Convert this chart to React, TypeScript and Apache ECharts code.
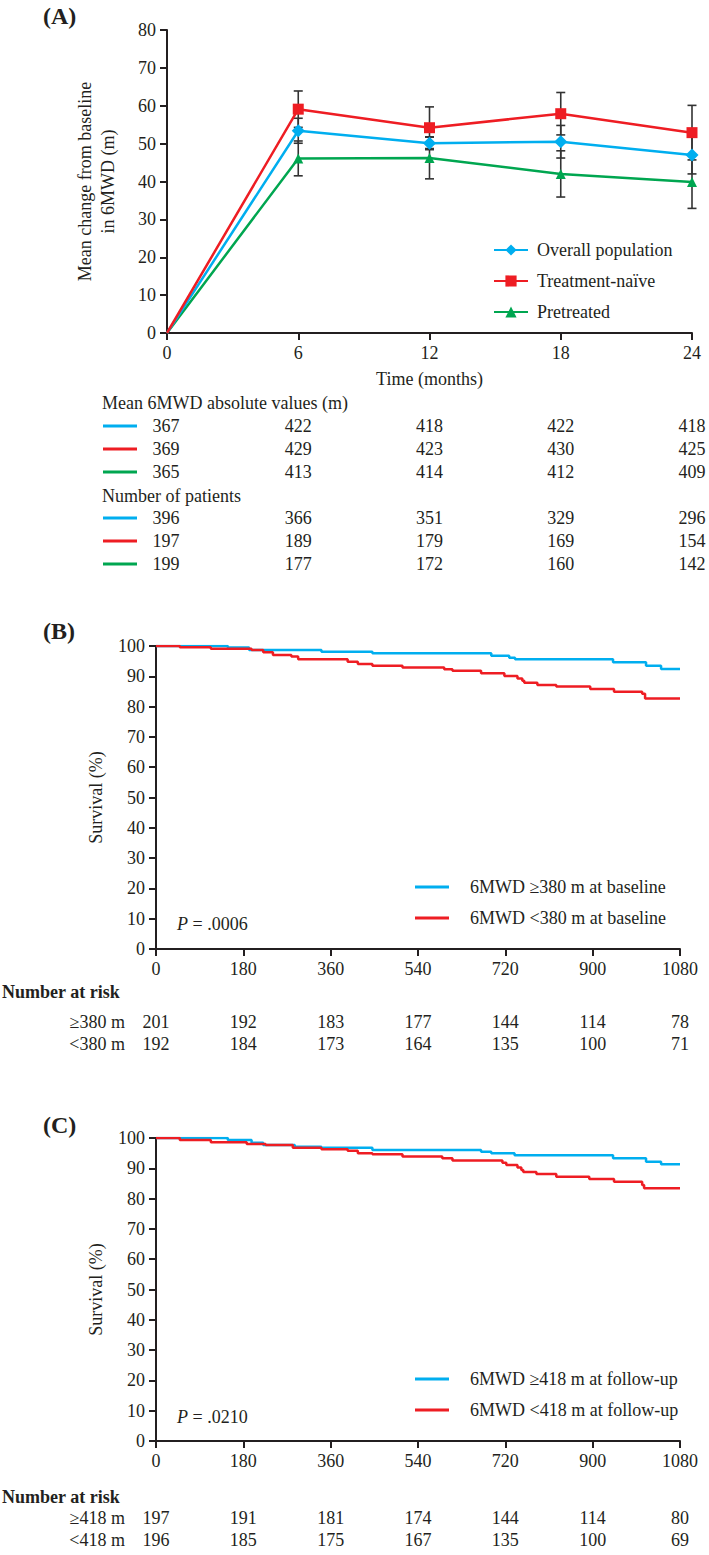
import React, { useEffect, useRef } from 'react';
import * as echarts from 'echarts';

// ---------- Panel A data ----------
const months = [0, 6, 12, 18, 24];
const overallMean = [0, 53.4, 50.1, 50.5, 47.0];
const naiveMean = [0, 59.1, 54.2, 57.9, 52.9];
const pretreatedMean = [0, 46.1, 46.2, 42.0, 39.9];
const overallSE = [0, 3.3, 1.7, 4.3, 5.0];
const naiveSE = [0, 4.8, 5.5, 5.6, 7.2];
const pretreatedSE = [0, 4.6, 5.5, 6.1, 7.0];

const absOverall = ['367', '422', '418', '422', '418'];
const absNaive = ['369', '429', '423', '430', '425'];
const absPretreated = ['365', '413', '414', '412', '409'];
const nOverall = ['396', '366', '351', '329', '296'];
const nNaive = ['197', '189', '179', '169', '154'];
const nPretreated = ['199', '177', '172', '160', '142'];

// ---------- Panel B data (days, survival %) ----------
const bHighT = [0, 148, 192, 341, 446, 691, 728, 740, 942, 1010, 1041, 1080];
const bHighS = [100, 99.5, 98.7, 98.1, 97.6, 96.8, 96.1, 95.6, 94.6, 93.5, 92.4, 92.4];
const bLowT = [0, 49, 113, 197, 221, 241, 279, 293, 395, 416, 446, 508, 594, 611, 670, 718, 745, 755, 759, 786, 825, 895, 944, 1002, 1008, 1080];
const bLowS = [100, 99.6, 99.1, 98.7, 97.9, 97.0, 96.5, 95.6, 94.8, 94.1, 93.5, 92.9, 92.3, 91.8, 91.0, 90.1, 89.3, 88.5, 87.9, 87.1, 86.6, 85.8, 84.9, 84.2, 82.7, 82.7];
const bRiskTimes = [0, 180, 360, 540, 720, 900, 1080];
const bRiskHigh = ['201', '192', '183', '177', '144', '114', '78'];
const bRiskLow = ['192', '184', '173', '164', '135', '100', '71'];

// ---------- Panel C data ----------
const cHighT = [0, 148, 197, 221, 286, 341, 446, 670, 691, 739, 942, 1010, 1041, 1080];
const cHighS = [100, 99.3, 98.4, 97.7, 97.1, 96.8, 96.0, 95.5, 95.0, 94.3, 93.3, 92.2, 91.3, 91.3];
const cLowT = [0, 49, 113, 187, 226, 282, 341, 395, 416, 446, 508, 590, 611, 714, 722, 745, 753, 757, 784, 825, 893, 944, 1002, 1006, 1080];
const cLowS = [100, 99.3, 98.6, 98.0, 97.7, 96.8, 96.3, 95.8, 95.0, 94.6, 93.9, 93.3, 92.6, 91.8, 91.1, 90.3, 89.4, 88.8, 88.1, 87.2, 86.5, 85.6, 84.5, 83.4, 83.4];
const cRiskHigh = ['197', '191', '181', '174', '144', '114', '80'];
const cRiskLow = ['196', '185', '175', '167', '135', '100', '69'];

const FONT = '"Liberation Serif", "Times New Roman", Times, serif';
const TXT = '#231f20';
const BLUE = '#00AEEF';
const RED = '#EE1D23';
const GREEN = '#00A650';

const gA = { left: 167, top: 30, width: 525, height: 303 };
const gB = { left: 156, top: 646, width: 524, height: 303 };
const gC = { left: 156, top: 1138, width: 524, height: 303 };

function xAxisOf(gridIndex: number, max: number, interval: number, extra: any = {}) {
  return {
    type: 'value', gridIndex, min: 0, max, interval,
    axisLine: { show: true, onZero: false, lineStyle: { color: TXT, width: 2 } },
    axisTick: { show: true, length: 7, lineStyle: { color: TXT, width: 2 } },
    axisLabel: { color: TXT, fontFamily: FONT, fontSize: 18, margin: 11, formatter: (v: number) => String(v) },
    splitLine: { show: false },
    ...extra,
  };
}
function yAxisOf(gridIndex: number, max: number, name: string, gap: number) {
  return {
    type: 'value', gridIndex, min: 0, max, interval: 10,
    name, nameLocation: 'middle', nameGap: gap, nameRotate: 90,
    nameTextStyle: { color: TXT, fontFamily: FONT, fontSize: 18, lineHeight: 23 },
    axisLine: { show: true, onZero: false, lineStyle: { color: TXT, width: 2 } },
    axisTick: { show: true, length: 7, lineStyle: { color: TXT, width: 2 } },
    axisLabel: { color: TXT, fontFamily: FONT, fontSize: 18, margin: 11, formatter: (v: number) => String(v) },
    splitLine: { show: false },
  };
}

function meanSeries(name: string, vals: number[], color: string, symbol: string, size: number) {
  return {
    type: 'line', name, xAxisIndex: 0, yAxisIndex: 0,
    data: months.map((m, i) => (i === 0 ? { value: [m, vals[i]], symbol: 'none' } : [m, vals[i]])),
    symbol, symbolSize: size,
    lineStyle: { color, width: 2.5 }, itemStyle: { color },
    z: 4,
  };
}
function errSeries(vals: number[], se: number[]) {
  return {
    type: 'custom', xAxisIndex: 0, yAxisIndex: 0, z: 2, silent: true,
    encode: { x: 0, y: [1, 2] },
    data: months.slice(1).map((m, k) => [m, vals[k + 1] - se[k + 1], vals[k + 1] + se[k + 1]]),
    renderItem: (params: any, api: any) => {
      const x = api.value(0);
      const a = api.coord([x, api.value(2)]);
      const b = api.coord([x, api.value(1)]);
      const cw = 4.5;
      const st = { stroke: '#333333', lineWidth: 1.6 };
      return {
        type: 'group',
        children: [
          { type: 'line', shape: { x1: a[0], y1: a[1], x2: b[0], y2: b[1] }, style: st },
          { type: 'line', shape: { x1: a[0] - cw, y1: a[1], x2: a[0] + cw, y2: a[1] }, style: st },
          { type: 'line', shape: { x1: b[0] - cw, y1: b[1], x2: b[0] + cw, y2: b[1] }, style: st },
        ],
      };
    },
  };
}
function kmSeries(name: string, t: number[], s: number[], color: string, axis: number) {
  return {
    type: 'line', name, xAxisIndex: axis, yAxisIndex: axis, step: 'end',
    data: t.map((d, i) => [d, s[i]]),
    symbol: 'none', lineStyle: { color, width: 2.5 }, itemStyle: { color }, z: 3,
  };
}

function txt(x: number, y: number, text: string, align = 'left', extra: any = {}) {
  return {
    type: 'text', x, y, silent: true,
    style: { text, fontFamily: FONT, fontSize: 18, fill: TXT, align, verticalAlign: 'middle', ...extra },
  };
}
function swatch(y: number, color: string) {
  return { type: 'line', silent: true, shape: { x1: 103, y1: y, x2: 137, y2: y }, style: { stroke: color, lineWidth: 3 } };
}

function buildGraphics() {
  const g: any[] = [];
  // panel labels
  g.push(txt(43, 16, '(A)', 'left', { fontSize: 24, fontWeight: 'bold' }));
  g.push(txt(43, 631, '(B)', 'left', { fontSize: 24, fontWeight: 'bold' }));
  g.push(txt(43, 1125, '(C)', 'left', { fontSize: 24, fontWeight: 'bold' }));

  // Panel A table
  const colA = months.map((m) => gA.left + (m / 24) * gA.width);
  g.push(txt(102, 403, 'Mean 6MWD absolute values (m)'));
  const rowsA: [number, string, string[]][] = [
    [426, BLUE, absOverall], [449, RED, absNaive], [472, GREEN, absPretreated],
  ];
  const rowsN: [number, string, string[]][] = [
    [518, BLUE, nOverall], [541, RED, nNaive], [564, GREEN, nPretreated],
  ];
  g.push(txt(102, 496, 'Number of patients'));
  [...rowsA, ...rowsN].forEach(([y, c, vals]) => {
    g.push(swatch(y, c));
    vals.forEach((v, i) => g.push(txt(colA[i] - (i === 0 ? 1 : 0), y, v, 'center')));
  });

  // P values
  const pRich = { i: { fontStyle: 'italic', fontFamily: FONT, fontSize: 18, fill: TXT } };
  g.push(txt(177, 924, '{i|P} = .0006', 'left', { rich: pRich }));
  g.push(txt(177, 1417, '{i|P} = .0210', 'left', { rich: pRich }));

  // Number at risk B
  const colB = bRiskTimes.map((t) => gB.left + (t / 1080) * gB.width);
  g.push(txt(2, 992, 'Number at risk', 'left', { fontWeight: 'bold' }));
  g.push(txt(125, 1022, '\u2265380 m', 'right'));
  g.push(txt(125, 1044, '<380 m', 'right'));
  bRiskHigh.forEach((v, i) => g.push(txt(colB[i], 1022, v, 'center')));
  bRiskLow.forEach((v, i) => g.push(txt(colB[i], 1044, v, 'center')));

  // Number at risk C
  const colC = bRiskTimes.map((t) => gC.left + (t / 1080) * gC.width);
  g.push(txt(2, 1497, 'Number at risk', 'left', { fontWeight: 'bold' }));
  g.push(txt(125, 1518, '\u2265418 m', 'right'));
  g.push(txt(125, 1540, '<418 m', 'right'));
  cRiskHigh.forEach((v, i) => g.push(txt(colC[i], 1518, v, 'center')));
  cRiskLow.forEach((v, i) => g.push(txt(colC[i], 1540, v, 'center')));
  return g;
}

const legendText = { color: TXT, fontFamily: FONT, fontSize: 18, lineHeight: 20 };
const LINE_ICON = 'path://M0,0 L34,0 L34,3 L0,3 Z';

export default function App() {
  const ref = useRef<HTMLDivElement>(null);
  useEffect(() => {
    const chart = echarts.init(ref.current!, null, { renderer: 'svg' });
    chart.setOption({
      animation: false,
      backgroundColor: '#ffffff',
      grid: [
        { ...gA, containLabel: false },
        { ...gB, containLabel: false },
        { ...gC, containLabel: false },
      ],
      xAxis: [
        xAxisOf(0, 24, 6, {
          name: 'Time (months)', nameLocation: 'middle', nameGap: 37,
          nameTextStyle: { color: TXT, fontFamily: FONT, fontSize: 18 },
        }),
        xAxisOf(1, 1080, 180),
        xAxisOf(2, 1080, 180),
      ],
      yAxis: [
        yAxisOf(0, 80, 'Mean change from baseline\nin 6MWD (m)', 48),
        yAxisOf(1, 100, 'Survival (%)', 49),
        yAxisOf(2, 100, 'Survival (%)', 49),
      ],
      legend: [
        {
          orient: 'vertical', left: 493, top: 240, padding: 0, itemWidth: 34, itemHeight: 14, itemGap: 11,
          data: ['Overall population', 'Treatment-naïve', 'Pretreated'],
          textStyle: { ...legendText, padding: [0, 0, 0, 4] }, selectedMode: false,
        },
        {
          orient: 'vertical', left: 415, top: 877, padding: 0, itemWidth: 34, itemHeight: 3, itemGap: 11,
          icon: LINE_ICON,
          data: ['6MWD \u2265380 m at baseline', '6MWD <380 m at baseline'],
          textStyle: { ...legendText, padding: [0, 0, 0, 16] }, selectedMode: false,
        },
        {
          orient: 'vertical', left: 415, top: 1369, padding: 0, itemWidth: 34, itemHeight: 3, itemGap: 11,
          icon: LINE_ICON,
          data: ['6MWD \u2265418 m at follow-up', '6MWD <418 m at follow-up'],
          textStyle: { ...legendText, padding: [0, 0, 0, 16] }, selectedMode: false,
        },
      ],
      series: [
        errSeries(pretreatedMean, pretreatedSE),
        errSeries(overallMean, overallSE),
        errSeries(naiveMean, naiveSE),
        meanSeries('Pretreated', pretreatedMean, GREEN, 'triangle', 10),
        meanSeries('Overall population', overallMean, BLUE, 'diamond', 13),
        meanSeries('Treatment-naïve', naiveMean, RED, 'rect', 11),
        kmSeries('6MWD \u2265380 m at baseline', bHighT, bHighS, BLUE, 1),
        kmSeries('6MWD <380 m at baseline', bLowT, bLowS, RED, 1),
        kmSeries('6MWD \u2265418 m at follow-up', cHighT, cHighS, BLUE, 2),
        kmSeries('6MWD <418 m at follow-up', cLowT, cLowS, RED, 2),
      ],
      graphic: buildGraphics(),
    });
    return () => chart.dispose();
  }, []);
  return (
    <div
      ref={ref}
      style={{ position: 'absolute', left: 0, top: 0, width: 709, height: 1555, background: '#fff' }}
    />
  );
}
